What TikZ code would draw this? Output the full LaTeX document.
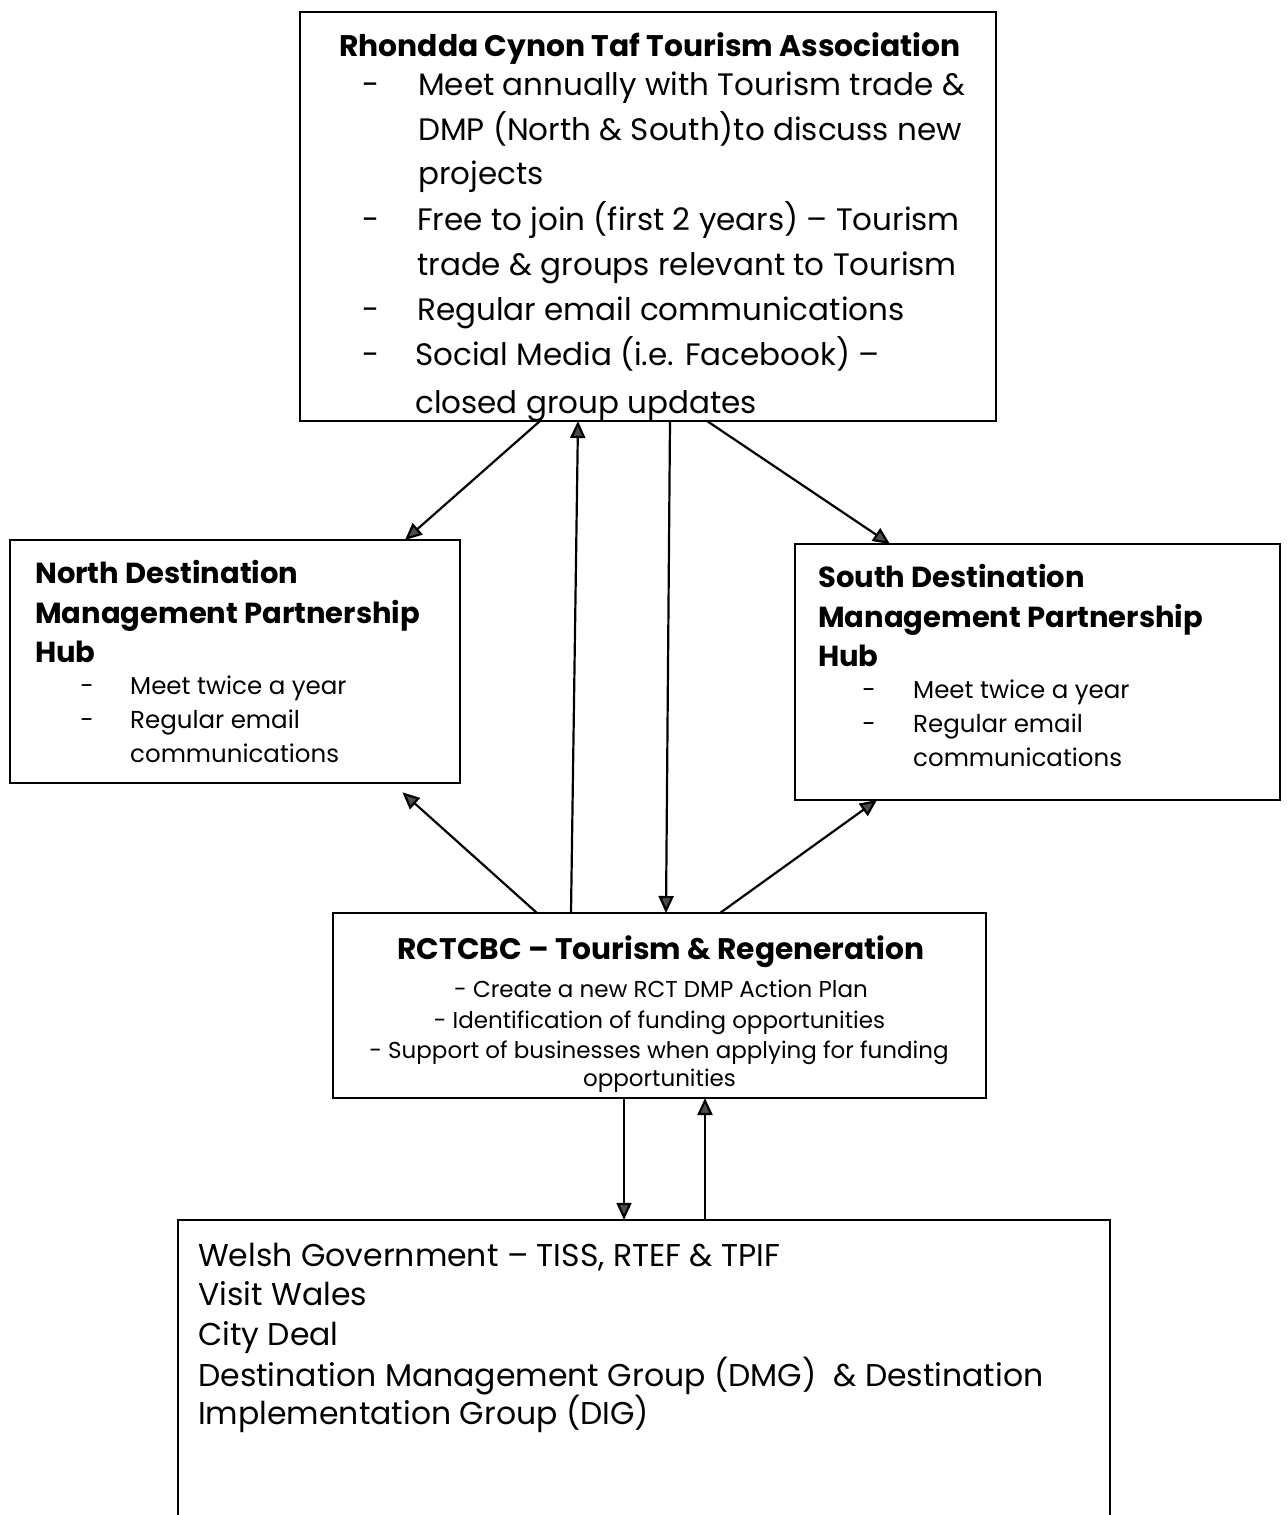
\documentclass[tikz,border=0pt]{standalone}
\usepackage{fontspec}
\setmainfont{Poppins}
\usetikzlibrary{arrows.meta}
\begin{document}
\begin{tikzpicture}[x=1pt,y=-1pt,
  boxst/.style={draw=black, line width=2.2pt, inner sep=0pt, outer sep=0pt},
  arr/.style={line width=2.2pt, -{Triangle[length=17pt,width=15pt,fill=black!70]}},
  tl/.style={inner sep=0pt, anchor=base west},
  tc/.style={inner sep=0pt, anchor=base},
  ttitle/.style={font=\fontsize{29.8}{29.8}\selectfont\bfseries},
  tbody/.style={font=\fontsize{31}{31}\selectfont},
  htitle/.style={font=\fontsize{29}{29}\selectfont\bfseries},
  hbody/.style={font=\fontsize{24.5}{24.5}\selectfont},
  rtitle/.style={font=\fontsize{29.7}{29.7}\selectfont\bfseries},
  rbody/.style={font=\fontsize{23}{23}\selectfont},
  bbody/.style={font=\fontsize{31.5}{31.5}\selectfont}]
\useasboundingbox[fill=white] (0,0) rectangle (1287,1515);

% boxes
\node[boxst, minimum width=696pt, minimum height=409pt] (top) at (648,216.5) {};
\node[boxst, minimum width=450pt, minimum height=243pt] (north) at (235,661.5) {};
\node[boxst, minimum width=485pt, minimum height=256pt] (south) at (1037.5,672) {};
\node[boxst, minimum width=653pt, minimum height=185pt] (rct) at (659.5,1005.5) {};
\node[inner sep=0pt, minimum width=932pt, minimum height=300pt] (gov) at (644,1370) {};
\draw[line width=2.2pt] (gov.south west) -- (gov.north west) -- (gov.north east) -- (gov.south east);

% top box text
\begin{scope}
\clip (top.north west) rectangle (top.south east);
\node[tc, ttitle] (t0) at (650,56) {Rhondda Cynon Taf Tourism Association};
\foreach \y/\n in {95/b1,230/b2,320/b3,365/b4}
  \node[tc, tbody] (t\n) at (371,\y) {-};
\node[tl, tbody] (t1) at (418,95) {Meet annually with Tourism trade \&};
\node[tl, tbody] (t2) at (418,140) {DMP (North \& South)to discuss new};
\node[tl, tbody] (t3) at (418,184) {projects};
\node[tl, tbody] (t4) at (417,230) {Free to join (first 2 years) -- Tourism};
\node[tl, tbody] (t5) at (417,275) {trade \& groups relevant to Tourism};
\node[tl, tbody] (t6) at (417,320) {Regular email communications};
\node[tl, tbody] (t7) at (415,365) {Social Media (i.e. Facebook) --};
\node[tl, tbody] (t8) at (415,413) {closed group updates};
\end{scope}

% north box text
\node[tl, htitle] (n1) at (35,583) {North Destination};
\node[tl, htitle] (n2) at (35,623) {Management Partnership};
\node[tl, htitle] (n3) at (35,662) {Hub};
\node[tc, hbody] (nb1) at (87,694) {-};
\node[tc, hbody] (nb2) at (87,728) {-};
\node[tl, hbody] (n4) at (130,694) {Meet twice a year};
\node[tl, hbody] (n5) at (130,728) {Regular email};
\node[tl, hbody] (n6) at (130,762) {communications};

% south box text
\node[tl, htitle] (s1) at (818,587) {South Destination};
\node[tl, htitle] (s2) at (818,627) {Management Partnership};
\node[tl, htitle] (s3) at (818,666) {Hub};
\node[tc, hbody] (sb1) at (869,698) {-};
\node[tc, hbody] (sb2) at (869,732) {-};
\node[tl, hbody] (s4) at (913,698) {Meet twice a year};
\node[tl, hbody] (s5) at (913,732) {Regular email};
\node[tl, hbody] (s6) at (913,766) {communications};

% rct box text
\node[tc, rtitle] (r0) at (661,959) {RCTCBC -- Tourism \& Regeneration};
\node[tc, rbody] (r1) at (661,997) {- Create a new RCT DMP Action Plan};
\node[tc, rbody] (r2) at (659.5,1028) {- Identification of funding opportunities};
\node[tc, rbody] (r3) at (659,1058) {- Support of businesses when applying for funding};
\node[tc, rbody] (r4) at (659.5,1086) {opportunities};

% bottom box text
\node[tl, bbody] (g1) at (198,1266) {Welsh Government -- TISS, RTEF \& TPIF};
\node[tl, bbody] (g2) at (198,1305) {Visit Wales};
\node[tl, bbody] (g3) at (198,1345) {City Deal};
\node[tl, bbody] (g4) at (198,1386) {Destination Management Group (DMG)\ \ \& Destination};
\node[tl, bbody] (g5) at (198,1424) {Implementation Group (DIG)};

% connectors
\draw[arr] (top.south -| 540,0) -- (north.north -| 405,0);
\draw[arr] (rct.north -| 571,0) -- (top.south -| 578,0);
\draw[arr] (top.south -| 670,0) -- (rct.north -| 666,0);
\draw[arr] (top.south -| 707,0) -- (south.north -| 890,0);
\draw[arr, shorten >=14pt] (rct.north -| 537,0) -- (north.south -| 392,0);
\draw[arr] (rct.north -| 720,0) -- (south.south -| 877,0);
\draw[arr] (rct.south -| 624,0) -- (gov.north -| 624,0);
\draw[arr] (gov.north -| 705,0) -- (rct.south -| 705,0);
\end{tikzpicture}
\end{document}
